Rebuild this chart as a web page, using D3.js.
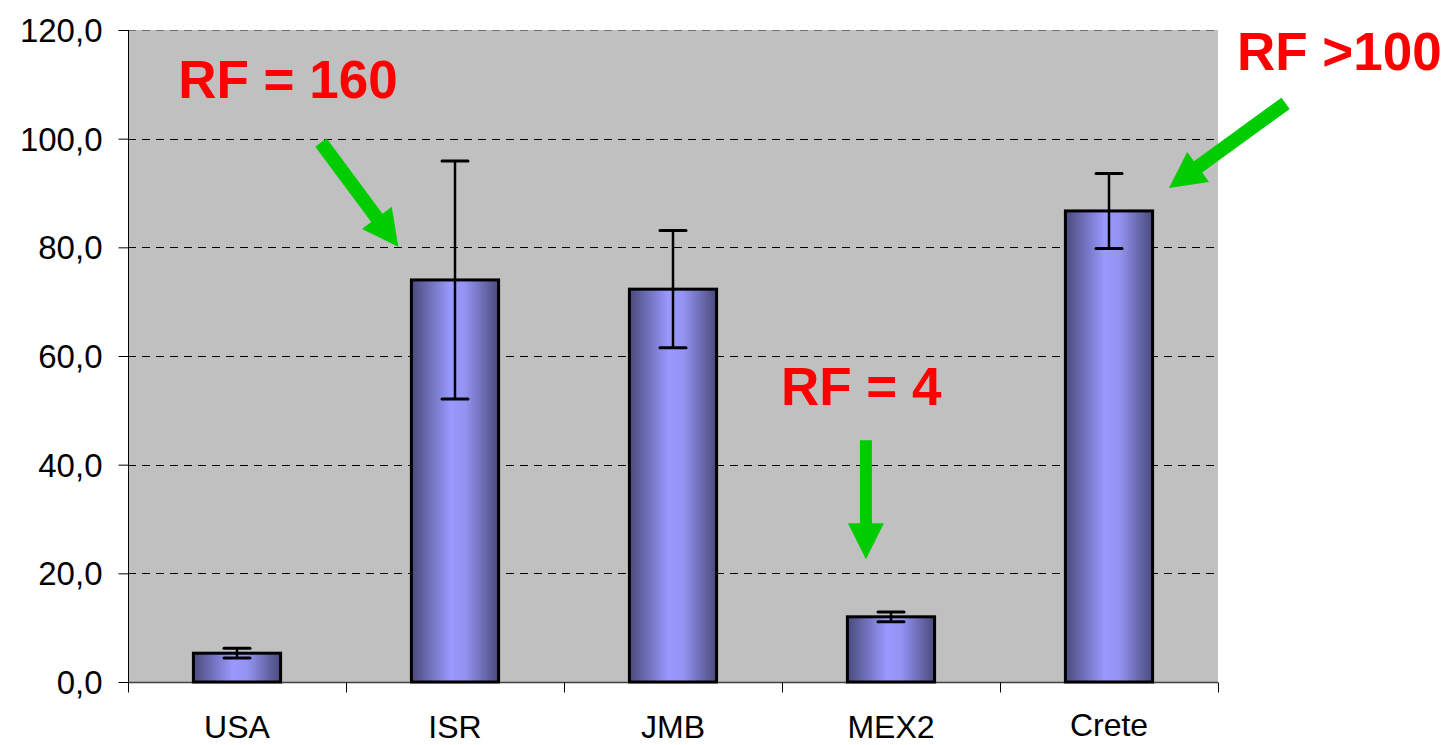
<!DOCTYPE html>
<html><head><meta charset="utf-8">
<script src="https://cdn.jsdelivr.net/npm/d3@7/dist/d3.min.js"></script>
<style>body{margin:0;background:#fff}svg{display:block}</style>
</head><body>
<svg id="c" width="1448" height="745"></svg>
<script>
const categories = ["USA", "ISR", "JMB", "MEX2", "Crete"];
const values = [5.3, 74.0, 72.3, 12.0, 86.7];
const errors = [0.9, 21.9, 10.8, 0.9, 6.9];
const yTicks = [0, 20, 40, 60, 80, 100, 120];
// annotations in data space (x = category index, y = value)
const noteTexts = ["RF = 160", "RF = 4", "RF >100"];
const noteTextX = [-0.27, 2.495, 4.587];
const noteTextY = [107.4, 51.0, 112.6];
const arrowFromX = [0.385, 2.885, 4.81];
const arrowFromY = [99.3, 44.5, 106.5];
const arrowToX = [0.74, 2.885, 4.275];
const arrowToY = [80.1, 22.6, 90.9];

const svg = d3.select("#c");
const L = 128, R = 1218, T = 30, B = 682;
const x = d3.scaleBand().domain(categories).range([L, R]).paddingInner(0.6).paddingOuter(0.3);
const xi = d3.scaleLinear().domain([-0.5, categories.length - 0.5]).range([L, R]);
const y = d3.scaleLinear().domain([0, 120]).range([B, T]);

const defs = svg.append("defs");
const g = defs.append("linearGradient").attr("id", "bg").attr("x1", "0").attr("x2", "1").attr("y1", "0").attr("y2", "0");
g.append("stop").attr("offset", "0%").attr("stop-color", "#4a4a7c");
g.append("stop").attr("offset", "45%").attr("stop-color", "#9999ff");
g.append("stop").attr("offset", "62%").attr("stop-color", "#9393f2");
g.append("stop").attr("offset", "100%").attr("stop-color", "#4a4a7c");

svg.append("rect").attr("x", L).attr("y", T).attr("width", R - L).attr("height", B - T).attr("fill", "#c0c0c0");

// gridlines
svg.append("g").selectAll("line").data(yTicks.filter(d => d > 0)).join("line")
  .attr("x1", L).attr("x2", R).attr("y1", d => Math.round(y(d)) + 0.5).attr("y2", d => Math.round(y(d)) + 0.5)
  .attr("stroke", d => d === 120 ? "#707070" : "#000").attr("stroke-width", 1).attr("stroke-dasharray", "8,6");

// y axis
const ya = svg.append("g").attr("transform", `translate(${L + 0.5},0)`)
  .call(d3.axisLeft(y).tickValues(yTicks).tickSize(10).tickPadding(16).tickFormat(d => d3.format(".1f")(d).replace(".", ",")));
ya.select(".domain").attr("stroke", "#000").attr("d", `M0,${y(120)}V${B}`);
ya.selectAll(".tick line").attr("stroke", "#000");
ya.selectAll("text").attr("font-family", "Liberation Sans, Arial, sans-serif").attr("font-size", 33).attr("fill", "#000").attr("dy", "0.35em");

// x axis
const xa = svg.append("g").attr("transform", `translate(0,${B + 0.5})`);
xa.append("line").attr("x1", L).attr("x2", R).attr("stroke", "#404040").attr("stroke-width", 1.5);
xa.selectAll("line.tk").data(d3.range(categories.length + 1)).join("line").attr("class", "tk")
  .attr("x1", i => Math.round(xi(i - 0.5)) + 0.5).attr("x2", i => Math.round(xi(i - 0.5)) + 0.5)
  .attr("y1", 0).attr("y2", 10).attr("stroke", "#000");
xa.selectAll("text").data(categories).join("text")
  .attr("x", d => x(d) + x.bandwidth() / 2).attr("y", d => d === "Crete" ? 53 : 55)
  .attr("text-anchor", "middle").attr("font-family", "Liberation Sans, Arial, sans-serif").attr("font-size", 32).attr("fill", "#000").text(d => d);

// bars
svg.append("g").selectAll("rect").data(categories).join("rect")
  .attr("x", d => x(d)).attr("width", x.bandwidth())
  .attr("y", (d, i) => y(values[i])).attr("height", (d, i) => B - y(values[i]))
  .attr("fill", "url(#bg)").attr("stroke", "#000").attr("stroke-width", 3);

// error bars
const eb = svg.append("g").attr("stroke", "#000");
categories.forEach((c, i) => {
  const cx = x(c) + x.bandwidth() / 2;
  eb.append("line").attr("x1", cx).attr("x2", cx).attr("y1", y(values[i] + errors[i])).attr("y2", y(values[i] - errors[i])).attr("stroke-width", 2.5);
  [values[i] + errors[i], values[i] - errors[i]].forEach(v => {
    eb.append("line").attr("x1", cx - 13).attr("x2", cx + 13).attr("y1", y(v)).attr("y2", y(v)).attr("stroke-width", 3).attr("stroke-linecap", "round");
  });
});

// arrows
const shaftW = 14, headL = 36, headW = 37;
noteTexts.forEach((t, i) => {
  const x0 = xi(arrowFromX[i]), y0 = y(arrowFromY[i]), x1 = xi(arrowToX[i]), y1 = y(arrowToY[i]);
  const dx = x1 - x0, dy = y1 - y0, len = Math.hypot(dx, dy);
  const ux = dx / len, uy = dy / len, px = -uy, py = ux;
  const bx = x1 - ux * headL, by = y1 - uy * headL;
  const sw = i === 1 ? 12 : shaftW, hw = i === 1 ? 36 : headW;
  const pts = [
    [x0 + px * sw / 2, y0 + py * sw / 2],
    [bx + px * sw / 2, by + py * sw / 2],
    [bx + px * hw / 2, by + py * hw / 2],
    [x1, y1],
    [bx - px * hw / 2, by - py * hw / 2],
    [bx - px * sw / 2, by - py * sw / 2],
    [x0 - px * sw / 2, y0 - py * sw / 2]
  ];
  svg.append("polygon").attr("points", pts.map(p => p.join(",")).join(" ")).attr("fill", "#00cc00");
  svg.append("text").attr("x", xi(noteTextX[i])).attr("y", y(noteTextY[i]))
    .attr("font-family", "Liberation Sans, Arial, sans-serif").attr("font-weight", "bold").attr("font-size", 53)
    .attr("fill", "#ff0000").text(t);
});
</script>
</body></html>
